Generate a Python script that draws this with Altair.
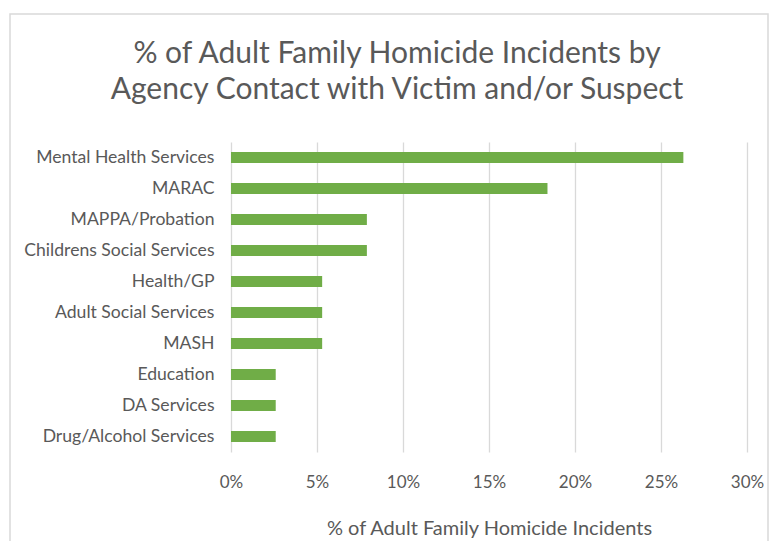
import altair as alt
import pandas as pd

categories = [
    "Mental Health Services", "MARAC", "MAPPA/Probation", "Childrens Social Services",
    "Health/GP", "Adult Social Services", "MASH", "Education", "DA Services",
    "Drug/Alcohol Services",
]
values = [0.263, 0.184, 0.079, 0.079, 0.053, 0.053, 0.053, 0.026, 0.026, 0.026]
x_ticks = [0, 0.05, 0.10, 0.15, 0.20, 0.25, 0.30]

df = pd.DataFrame({"agency": categories, "pct": values})

TEXT = "#595959"
FONT = "Lato"

bars = alt.Chart(df).mark_bar(color="#70ad47").encode(
    y=alt.Y("agency:N", sort=categories, title=None,
            scale=alt.Scale(paddingInner=0.64, paddingOuter=0.32),
            axis=alt.Axis(ticks=False, domain=False, grid=False, labelPadding=17,
                          labelLimit=400, labelFontSize=17.6, labelColor=TEXT,
                          labelFont=FONT)),
    x=alt.X("pct:Q", title="% of Adult Family Homicide Incidents",
            scale=alt.Scale(domain=[0, 0.30], nice=False),
            axis=alt.Axis(format=".0%", values=x_ticks, ticks=False, domain=False,
                          grid=True, gridColor="#d9d9d9", gridWidth=1.3,
                          labelFlush=False, labelPadding=22, labelFontSize=17,
                          labelColor=TEXT, labelFont=FONT, titleFontSize=20,
                          titleColor=TEXT, titleFont=FONT, titleFontWeight="normal",
                          titlePadding=28)),
)

border = alt.Chart(pd.DataFrame({"b": [0]})).mark_rect(
    fill=None, stroke="#d9d9d9", strokeWidth=1.5, clip=False
).encode(
    x=alt.value(-221), x2=alt.value(537), y=alt.value(-128), y2=alt.value(420)
)

chart = alt.layer(border, bars).properties(
    width=516,
    height=310,
    background="white",
    autosize=alt.AutoSizeParams(type="none"),
    padding={"left": 223, "top": 134, "right": 23, "bottom": 89},
    title=alt.TitleParams(
        ["% of Adult Family Homicide Incidents by", "Agency Contact with Victim and/or Suspect"],
        font=FONT, fontSize=30, fontWeight="normal", color=TEXT,
        anchor="middle", dx=-92, offset=-92, lineHeight=36,
    ),
).configure_view(stroke="transparent", strokeWidth=0)

chart.save("out.html", embed_options={"renderer": "svg", "actions": False})
